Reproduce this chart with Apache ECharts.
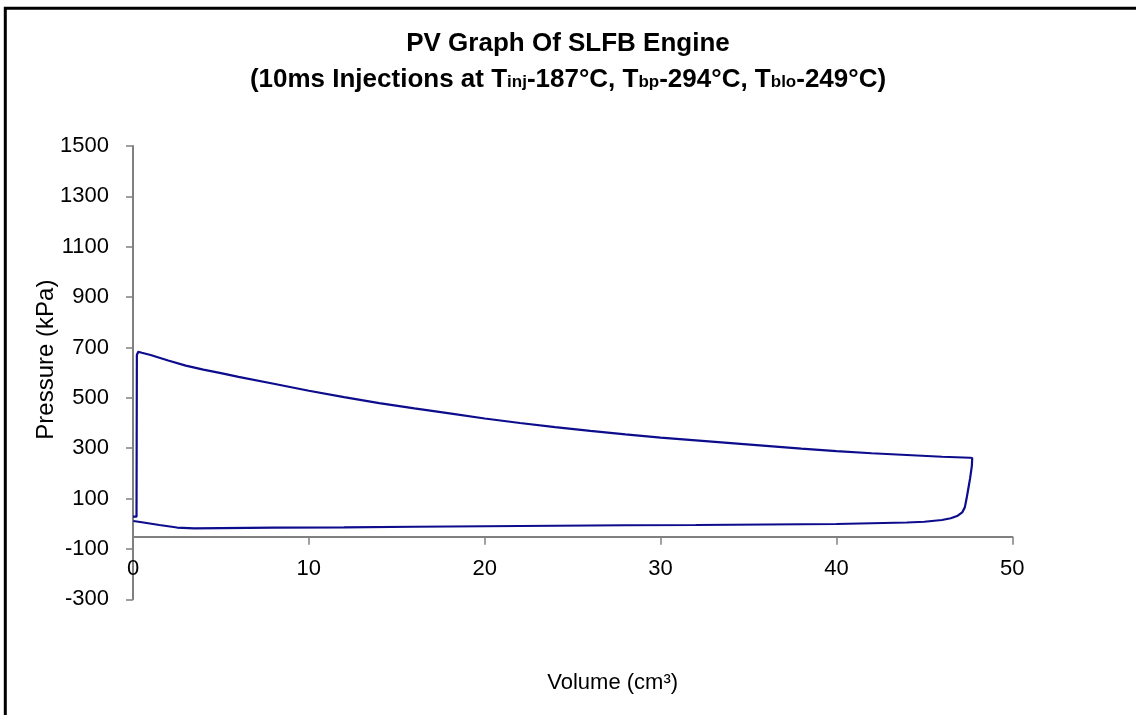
<!DOCTYPE html>
<html>
<head>
<meta charset="utf-8">
<script src="https://cdn.jsdelivr.net/npm/echarts@6/dist/echarts.min.js"></script>
<style>
  html, body { margin: 0; padding: 0; background: #fff; }
  #chart { width: 1136px; height: 715px; }
</style>
</head>
<body>
<div id="chart"></div>
<script>
const volume = [
  0.0, 0.2, 0.22, 0.3, 0.5, 1, 2, 3, 4, 5, 6, 8, 10, 12, 14, 16, 18, 20,
  22, 24, 26, 28, 30, 32, 34, 36, 38, 40, 42, 44, 46, 47.6, 47.72,
  47.7, 47.6, 47.5, 47.4, 47.3, 47.15, 46.9, 46.5, 46, 45, 44, 42, 40,
  36, 32, 28, 24, 20, 16, 12, 8, 5, 3.5, 2.5, 1.5, 0.5, 0.02
];
const pressure = [
  28, 28, 670, 683, 679, 670, 648, 628, 612, 598, 583, 556, 528, 503, 479, 458, 438, 418,
  400, 384, 369, 355, 342, 331, 320, 309, 298, 288, 280, 273, 266, 262, 261,
  230, 180, 140, 100, 65, 45, 32, 22, 15, 8, 5, 2, -1,
  -3, -5, -6, -8, -10, -12, -14, -15, -17, -18, -15, -5, 6, 11
];
const xTicks = { min: 0, max: 50, step: 10 };
const yTicks = { min: -300, max: 1500, step: 200 };

const chart = echarts.init(document.getElementById('chart'));
const font = 'Liberation Sans, Arial, sans-serif';
const axisGrey = '#808080';

chart.setOption({
  backgroundColor: '#ffffff',
  animation: false,
  title: {
    left: 'center',
    top: 21,
    text: '{b|PV Graph Of SLFB Engine}\n{b|(10ms Injections at T}{s|inj}{b|-187°C, T}{s|bp}{b|-294°C, T}{s|blo}{b|-249°C)}',
    textStyle: {
      rich: {
        b: { fontFamily: font, fontWeight: 'bold', fontSize: 26, lineHeight: 36, color: '#000' },
        s: { fontFamily: font, fontWeight: 'bold', fontSize: 17, lineHeight: 36, color: '#000', padding: [5, 0, 0, 0] }
      }
    }
  },
  graphic: [{
    type: 'rect',
    shape: { x: 5.3, y: 8.3, width: 1300, height: 900 },
    style: { fill: null, stroke: '#000', lineWidth: 3 },
    silent: true
  }],
  grid: { left: 133, right: 123.7, top: 146, bottom: 115.7 },
  xAxis: {
    type: 'value',
    min: xTicks.min,
    max: xTicks.max,
    interval: xTicks.step,
    position: 'bottom',
    offset: -62.6,
    name: 'Volume (cm³)',
    nameLocation: 'middle',
    nameGap: 135,
    nameMoveOverlap: false,
    nameTextStyle: { fontFamily: font, fontSize: 22, color: '#000', padding: [0, 0, 0, 80] },
    axisLine: { onZero: false, lineStyle: { color: axisGrey, width: 2 } },
    axisTick: { show: true, inside: false, length: 8, lineStyle: { color: axisGrey, width: 1.5 } },
    axisLabel: { fontFamily: font, fontSize: 22, color: '#000', margin: 21 },
    splitLine: { show: false }
  },
  yAxis: {
    type: 'value',
    min: yTicks.min,
    max: yTicks.max,
    interval: yTicks.step,
    name: 'Pressure (kPa)',
    nameLocation: 'middle',
    nameGap: 75,
    nameMoveOverlap: false,
    nameTextStyle: { fontFamily: font, fontSize: 24, color: '#000', padding: [0, 0, 0, 26] },
    axisLine: { show: true, lineStyle: { color: axisGrey, width: 2 } },
    axisTick: { show: true, inside: false, length: 7, lineStyle: { color: axisGrey, width: 1.5 } },
    axisLabel: { fontFamily: font, fontSize: 22, color: '#000', margin: 24, formatter: v => String(v) },
    splitLine: { show: false }
  },
  series: [{
    type: 'line',
    data: volume.map((v, i) => [v, pressure[i]]),
    showSymbol: false,
    smooth: false,
    lineStyle: { color: '#0c0c8c', width: 2.2 },
    clip: false
  }]
});
</script>
</body>
</html>
